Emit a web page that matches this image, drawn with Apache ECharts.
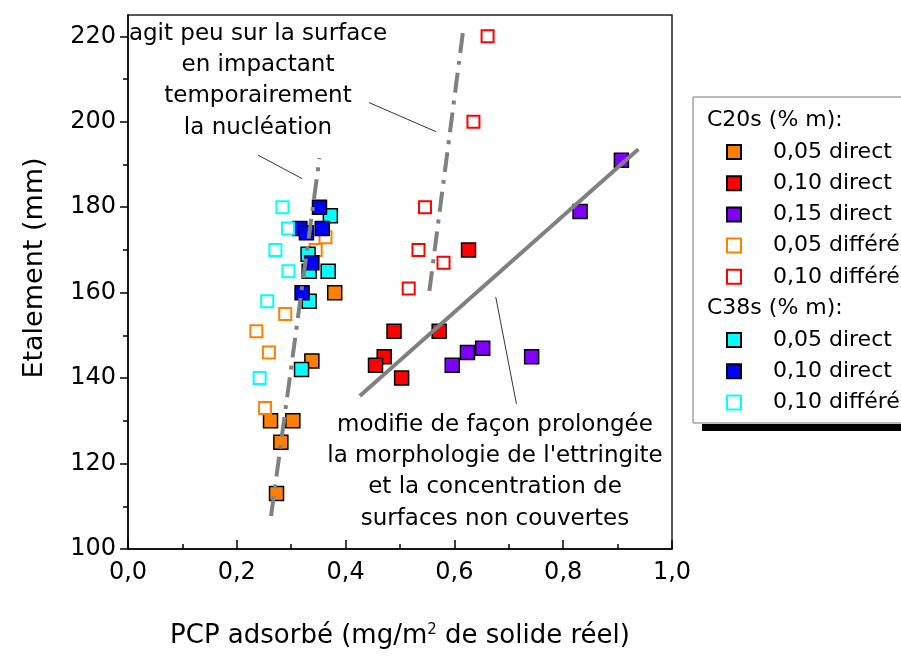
<!DOCTYPE html>
<html>
<head>
<meta charset="utf-8">
<script src="https://cdn.jsdelivr.net/npm/echarts@6/dist/echarts.min.js"></script>
<style>
  html, body { margin: 0; padding: 0; background: #fff; }
  #chart { width: 901px; height: 659px; }
</style>
</head>
<body>
<div id="chart"></div>
<script>
// data: [PCP adsorbé, Etalement]
var c20Direct005 = [[0.380, 160], [0.338, 144], [0.262, 130], [0.303, 130], [0.281, 125], [0.273, 113]];
var c20Direct010 = [[0.626, 170], [0.572, 151], [0.489, 151], [0.471, 145], [0.455, 143], [0.503, 140]];
var c20Direct015 = [[0.907, 191], [0.831, 179], [0.742, 145], [0.652, 147], [0.624, 146], [0.596, 143]];
var c20Differe005 = [[0.363, 173], [0.345, 170], [0.289, 155], [0.236, 151], [0.259, 146], [0.252, 133]];
var c20Differe010 = [[0.661, 220], [0.635, 200], [0.546, 180], [0.534, 170], [0.580, 167], [0.516, 161]];
var c38Direct005 = [[0.372, 178], [0.331, 169], [0.333, 165], [0.368, 165], [0.333, 158], [0.319, 142]];
var c38Direct010 = [[0.352, 180], [0.316, 175], [0.328, 174], [0.357, 175], [0.338, 167], [0.320, 160]];
var c38Differe010 = [[0.284, 180], [0.294, 175], [0.271, 170], [0.295, 165], [0.256, 158], [0.242, 140]];

// trend lines and leader lines (end points)
var trendLeft = [[0.263, 107.7], [0.352, 191.5]];
var trendMiddle = [[0.554, 160.4], [0.617, 222.3]];
var trendRight = [[0.426, 135.8], [0.938, 193.6]];
var leaderTop = [[0.443, 204.5], [0.566, 197.7]];
var leaderLeft = [[0.239, 192.2], [0.320, 186.7]];
var leaderBottom = [[0.676, 159], [0.714, 134]];

var yTicks = [100, 120, 140, 160, 180, 200, 220];
var yMinorTicks = [110, 130, 150, 170, 190, 210];

var c20Names = ['C20s|0,05 direct', 'C20s|0,10 direct', 'C20s|0,15 direct', 'C20s|0,05 différé', 'C20s|0,10 différé'];
var c38Names = ['C38s|0,05 direct', 'C38s|0,10 direct', 'C38s|0,10 différé'];

var FONT = 'DejaVu Sans';

function filled(name, data, color) {
  return {
    name: name, type: 'scatter', data: data, symbol: 'rect', symbolSize: 14,
    itemStyle: { color: color, borderColor: '#000', borderWidth: 1.5, opacity: 1 },
    emphasis: { disabled: true }, z: 3
  };
}
function open(name, data, color) {
  return {
    name: name, type: 'scatter', data: data, symbol: 'rect', symbolSize: 12,
    itemStyle: { color: '#fff', borderColor: color, borderWidth: 2, opacity: 1 },
    emphasis: { disabled: true }, z: 3
  };
}
function line(data, width, color, type) {
  return {
    type: 'line', data: data, symbol: 'none', silent: true, z: 5,
    lineStyle: { color: color, width: width, type: type }
  };
}

var chart = echarts.init(document.getElementById('chart'));

var legendBase = {
  orient: 'vertical', left: 721, itemWidth: 14, itemHeight: 14, itemGap: 9.2,
  selectedMode: false,
  formatter: function (name) { return name.split('|')[1]; },
  textStyle: { fontFamily: FONT, fontSize: 22, color: '#000', lineHeight: 20, padding: [0, 0, 0, 27] }
};

option = {
  animation: false,
  textStyle: { fontFamily: FONT },
  grid: { left: 128, right: 229, top: 15, bottom: 110, show: true, borderColor: '#222', borderWidth: 1.5 },
  xAxis: {
    type: 'value', min: 0, max: 1, interval: 0.2,
    axisLine: { show: true, onZero: false, lineStyle: { color: '#000', width: 1.5 } },
    axisTick: { show: true, inside: true, length: 9, lineStyle: { color: '#000', width: 1.5 } },
    minorTick: { show: true, splitNumber: 2, length: 5, lineStyle: { color: '#000', width: 1.5 } },
    axisLabel: {
      fontSize: 24, color: '#000', margin: 12, fontFamily: FONT,
      formatter: function (v) { return v.toFixed(1).replace('.', ','); }
    },
    splitLine: { show: false },
    name: 'PCP adsorbé (mg/m{sup|2} de solide réel)',
    nameLocation: 'middle', nameGap: 74,
    nameTextStyle: {
      fontSize: 26, color: '#000', fontFamily: FONT,
      rich: { sup: { fontSize: 15, verticalAlign: 'top', fontFamily: FONT, color: '#000' } }
    }
  },
  yAxis: [{
    type: 'value', min: 100, max: 225, interval: 20,
    axisLine: { show: true, onZero: false, lineStyle: { color: '#000', width: 1.5 } },
    axisTick: { show: true, length: 8, customValues: yTicks, lineStyle: { color: '#000', width: 1.5 } },
    axisLabel: { customValues: yTicks, fontSize: 24, color: '#000', margin: 12, fontFamily: FONT },
    splitLine: { show: false },
    name: 'Etalement (mm)', nameLocation: 'middle', nameGap: 80,
    nameTextStyle: { fontSize: 27, color: '#000', fontFamily: FONT, padding: [0, 0, 0, 28] }
  }, {
    type: 'value', min: 100, max: 225, position: 'left',
    axisLine: { show: false },
    axisTick: { show: true, length: 5, customValues: yMinorTicks, lineStyle: { color: '#000', width: 1.5 } },
    axisLabel: { show: false },
    splitLine: { show: false }
  }],
  legend: [
    Object.assign({}, legendBase, { top: 136, data: c20Names }),
    Object.assign({}, legendBase, { top: 324, data: c38Names })
  ],
  graphic: [
    { type: 'rect', z: 0, shape: { x: 693, y: 97, width: 230, height: 326 },
      style: { fill: '#fff', stroke: '#777', lineWidth: 1 } },
    { type: 'rect', z: 0, shape: { x: 702, y: 424, width: 210, height: 7 }, style: { fill: '#000' } },
    { type: 'text', z: 1, x: 707, y: 120,
      style: { text: 'C20s (% m):', fontFamily: FONT, fontSize: 22, fill: '#000', verticalAlign: 'middle' } },
    { type: 'text', z: 1, x: 707, y: 308,
      style: { text: 'C38s (% m):', fontFamily: FONT, fontSize: 22, fill: '#000', verticalAlign: 'middle' } },
    { type: 'text', z: 10, x: 258, y: 18,
      style: { text: 'agit peu sur la surface\nen impactant\ntemporairement\nla nucléation',
        fontFamily: FONT, fontSize: 23, lineHeight: 31.4, fill: '#000', align: 'center' } },
    { type: 'text', z: 10, x: 495, y: 409,
      style: { text: "modifie de façon prolongée\nla morphologie de l'ettringite\net la concentration de\nsurfaces non couvertes",
        fontFamily: FONT, fontSize: 23, lineHeight: 31.3, fill: '#000', align: 'center' } }
  ],
  series: [
    filled(c20Names[0], c20Direct005, '#ff8000'),
    filled(c20Names[1], c20Direct010, '#ff0000'),
    filled(c20Names[2], c20Direct015, '#8000ff'),
    open(c20Names[3], c20Differe005, '#ff8000'),
    open(c20Names[4], c20Differe010, '#ff0000'),
    filled(c38Names[0], c38Direct005, '#00ffff'),
    filled(c38Names[1], c38Direct010, '#0000ff'),
    open(c38Names[2], c38Differe010, '#00ffff'),
    line(trendLeft, 4, '#808080', [20, 8, 4, 8]),
    line(trendMiddle, 4, '#808080', [20, 8, 4, 8]),
    line(trendRight, 4, '#808080', 'solid'),
    line(leaderTop, 1, '#333', 'solid'),
    line(leaderLeft, 1, '#333', 'solid'),
    line(leaderBottom, 1, '#333', 'solid')
  ]
};

chart.setOption(option);
</script>
</body>
</html>
